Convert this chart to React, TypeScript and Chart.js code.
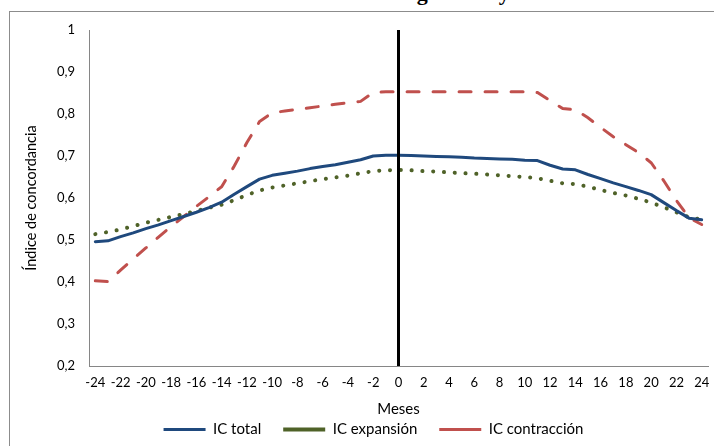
import { useEffect, useRef } from 'react';
import { Chart, registerables } from 'chart.js';

Chart.register(...registerables);

const chartTitle = 'Índice de concordancia: cronología total y fases';
const xTitle = 'Meses';
const yTitle = 'Índice de concordancia';
const referenceMonth = '0';

const months = [
  '-24', '-23', '-22', '-21', '-20', '-19', '-18', '-17', '-16', '-15', '-14', '-13', '-12',
  '-11', '-10', '-9', '-8', '-7', '-6', '-5', '-4', '-3', '-2', '-1', '0',
  '1', '2', '3', '4', '5', '6', '7', '8', '9', '10', '11', '12',
  '13', '14', '15', '16', '17', '18', '19', '20', '21', '22', '23', '24',
];

const seriesNames = ['IC total', 'IC expansión', 'IC contracción'];

const icTotal = [
  0.496, 0.498, 0.508, 0.517, 0.527, 0.536, 0.546, 0.556, 0.566, 0.577, 0.590, 0.609, 0.627,
  0.645, 0.654, 0.659, 0.664, 0.670, 0.675, 0.679, 0.685, 0.691, 0.700, 0.702, 0.702,
  0.701, 0.700, 0.699, 0.698, 0.697, 0.695, 0.694, 0.693, 0.692, 0.690, 0.689, 0.678,
  0.669, 0.667, 0.656, 0.646, 0.636, 0.627, 0.618, 0.608, 0.589, 0.570, 0.552, 0.548,
];

const icExpansion = [
  0.514, 0.519, 0.525, 0.533, 0.541, 0.548, 0.555, 0.562, 0.569, 0.577, 0.584, 0.595, 0.607,
  0.618, 0.625, 0.630, 0.635, 0.640, 0.645, 0.649, 0.653, 0.659, 0.664, 0.666, 0.667,
  0.666, 0.664, 0.663, 0.661, 0.659, 0.658, 0.656, 0.654, 0.652, 0.650, 0.647, 0.641,
  0.635, 0.633, 0.627, 0.619, 0.612, 0.606, 0.598, 0.589, 0.578, 0.566, 0.554, 0.549,
];

const icContraccion = [
  0.403, 0.401, 0.428, 0.455, 0.481, 0.507, 0.532, 0.556, 0.580, 0.603, 0.627, 0.676, 0.732,
  0.782, 0.803, 0.807, 0.811, 0.815, 0.819, 0.823, 0.827, 0.830, 0.851, 0.853, 0.853,
  0.853, 0.853, 0.853, 0.853, 0.853, 0.853, 0.853, 0.853, 0.853, 0.853, 0.851, 0.832,
  0.813, 0.810, 0.791, 0.768, 0.746, 0.727, 0.708, 0.684, 0.641, 0.594, 0.553, 0.537,
];

const yMin = 0.2;
const yMax = 1;
const yStep = 0.1;

const FONT = 'Lato';
const TEXT = '#000000';
const AXIS = '#868686';

export default function App() {
  const ref = useRef<HTMLCanvasElement | null>(null);

  useEffect(() => {
    const canvas = ref.current;
    if (!canvas) return;

    const zeroLine = {
      id: 'zeroLine',
      afterDatasetsDraw(chart: any) {
        const { ctx, chartArea, scales } = chart;
        const idx = months.indexOf(referenceMonth);
        const x = scales.x.getPixelForValue(idx);
        ctx.save();
        ctx.strokeStyle = '#000000';
        ctx.lineWidth = 3;
        ctx.setLineDash([]);
        ctx.beginPath();
        ctx.moveTo(x, chartArea.top);
        ctx.lineTo(x, chartArea.bottom);
        ctx.stroke();
        ctx.restore();
      },
    };

    const legendPlace = {
      id: 'legendPlace',
      afterLayout(chart: any) {
        const lg = chart.legend;
        if (!lg) return;
        lg.top = 388;
        lg.height = 46;
        lg.bottom = 434;
      },
    };

    const chart = new Chart(canvas, {
      type: 'line',
      data: {
        labels: months,
        datasets: [
          {
            label: seriesNames[0],
            data: icTotal,
            borderColor: '#1F497D',
            backgroundColor: '#1F497D',
            borderWidth: 3,
            pointRadius: 0,
            pointHoverRadius: 0,
            tension: 0,
            borderCapStyle: 'round',
            borderJoinStyle: 'round',
          },
          {
            label: seriesNames[1],
            data: icExpansion,
            borderColor: '#4F6228',
            backgroundColor: '#4F6228',
            borderWidth: 4,
            borderDash: [0.1, 10.7],
            borderCapStyle: 'round',
            pointRadius: 0,
            pointHoverRadius: 0,
            tension: 0,
          },
          {
            label: seriesNames[2],
            data: icContraccion,
            borderColor: '#C0504D',
            backgroundColor: '#C0504D',
            borderWidth: 3,
            borderDash: [12, 14],
            borderCapStyle: 'round',
            pointRadius: 0,
            pointHoverRadius: 0,
            tension: 0,
          },
        ],
      },
      options: {
        animation: false,
        responsive: false,
        devicePixelRatio: 1,
        layout: { padding: { top: 18, left: 0, right: 0, bottom: 0 } },
        plugins: {
          title: { display: false },
          tooltip: { enabled: false },
          legend: {
            display: true,
            position: 'bottom',
            maxHeight: 27,
            labels: {
              usePointStyle: true,
              pointStyle: 'line',
              pointStyleWidth: 42,
              padding: 22,
              color: TEXT,
              font: { family: FONT, size: 15 },
            },
          },
        },
        scales: {
          x: {
            type: 'category',
            offset: true,
            grid: { display: false, drawTicks: false },
            border: { display: true, color: AXIS, width: 1 },
            ticks: {
              autoSkip: false,
              maxRotation: 0,
              minRotation: 0,
              padding: 9,
              color: TEXT,
              font: { family: FONT, size: 13 },
              callback: (_v: any, i: number) => (Number(months[i]) % 2 === 0 ? months[i] : ''),
            },
            title: {
              display: true,
              text: xTitle,
              color: TEXT,
              font: { family: FONT, size: 15 },
              padding: { top: 0, bottom: 1 },
            },
            afterFit(scale: any) {
              scale.height = 53;
            },
          },
          y: {
            type: 'linear',
            position: 'left',
            min: yMin,
            max: yMax,
            grid: { display: false, drawTicks: false },
            border: { display: true, color: AXIS, width: 1 },
            ticks: {
              stepSize: yStep,
              padding: 14,
              color: TEXT,
              font: { family: FONT, size: 13 },
              callback: (v: any) => {
                const n = Number(v);
                return Math.abs(n - 1) < 1e-9 ? '1' : n.toFixed(1).replace('.', ',');
              },
            },
            title: {
              display: true,
              text: yTitle,
              color: TEXT,
              font: { family: FONT, size: 14.5 },
              padding: { top: 13, bottom: 0 },
            },
            afterFit(scale: any) {
              scale.width = 79;
              scale.paddingTop = 8;
              scale.paddingBottom = 8;
            },
          },
          yRight: {
            type: 'linear',
            position: 'right',
            display: true,
            grid: { display: false, drawTicks: false },
            border: { display: false },
            ticks: { display: false },
            afterFit(scale: any) {
              scale.width = 29;
            },
          },
        },
      },
      plugins: [zeroLine, legendPlace],
    } as any);

    return () => chart.destroy();
  }, []);

  return (
    <div
      style={{
        position: 'fixed',
        left: 0,
        top: 0,
        width: 714,
        height: 446,
        overflow: 'hidden',
        background: '#ffffff',
      }}
    >
      <div
        style={{
          position: 'absolute',
          left: 116,
          top: -18,
          whiteSpace: 'nowrap',
          fontFamily: '"Liberation Serif", serif',
          fontWeight: 'bold',
          fontSize: 22,
          lineHeight: '22px',
          color: '#000',
        }}
      >
        {chartTitle}
      </div>
      <div
        style={{
          position: 'absolute',
          left: 9,
          top: 11,
          width: 760,
          height: 480,
          border: '1px solid #8c8c8c',
        }}
      />
      <canvas
        ref={ref}
        width={727}
        height={434}
        style={{ position: 'absolute', left: 10, top: 12, width: 727, height: 434 }}
      />
    </div>
  );
}
